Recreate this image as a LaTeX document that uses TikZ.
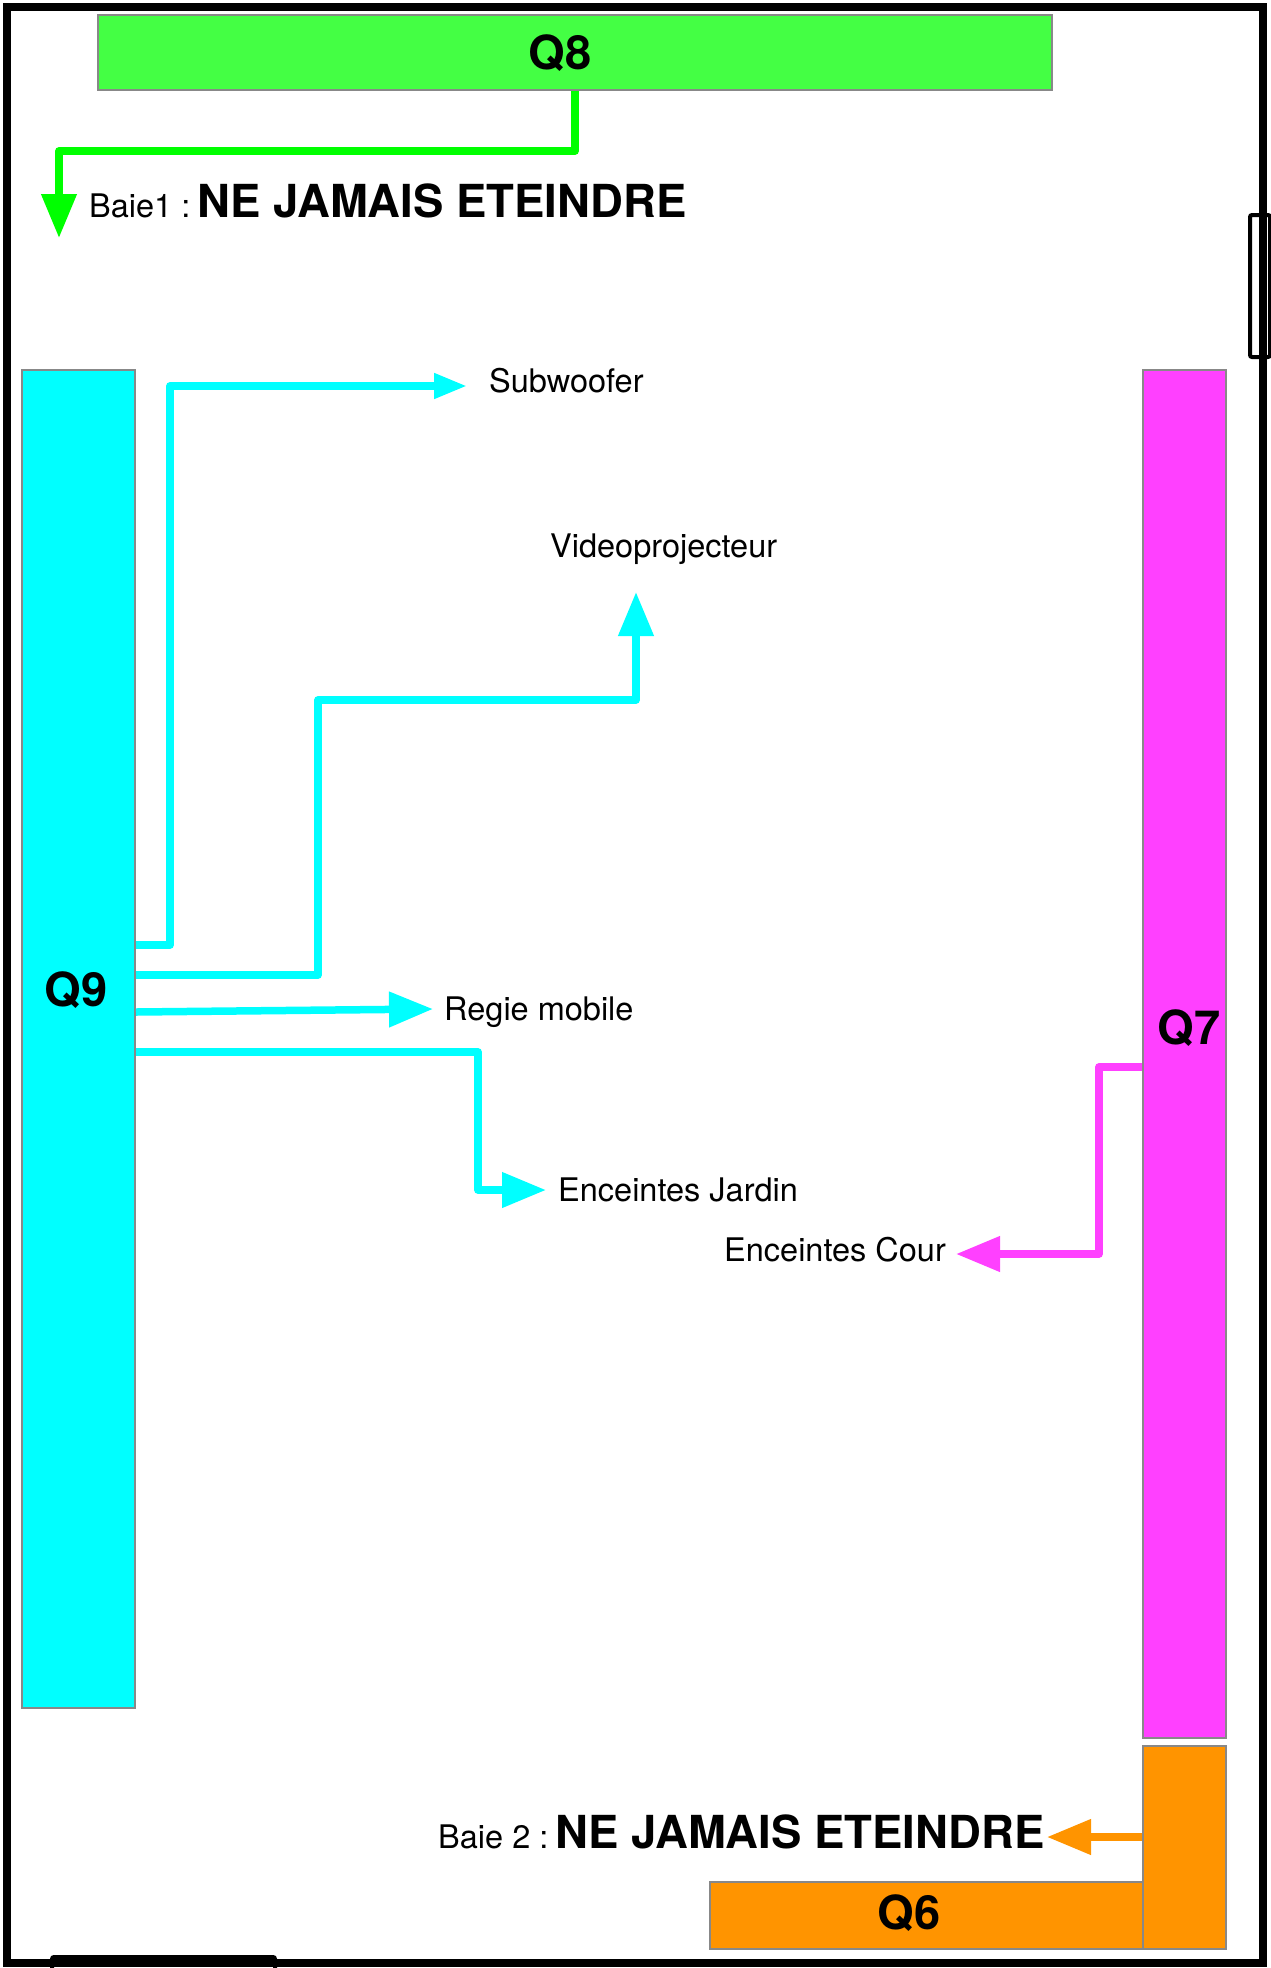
\documentclass[tikz,border=0pt]{standalone}
\usepackage{fontspec}
\setmainfont{TeX Gyre Heros}
\usetikzlibrary{arrows.meta}

\definecolor{q8green}{RGB}{68,255,68}
\definecolor{wiregreen}{RGB}{0,255,0}
\definecolor{q9cyan}{RGB}{0,255,255}
\definecolor{q7pink}{RGB}{255,64,255}
\definecolor{q6orange}{RGB}{255,148,0}
\definecolor{rimgray}{RGB}{136,136,136}

\begin{document}
\begin{tikzpicture}[x=1pt,y=-1pt,
  panel/.style={draw=rimgray,line width=2pt,inner sep=0pt},
  qname/.style={font=\fontsize{47}{56}\selectfont\bfseries,inner sep=0pt},
  dest/.style={font=\fontsize{32.5}{39}\selectfont,inner sep=0pt,anchor=base west},
  wire/.style={line width=7.5pt,line join=round},
  bigtip/.style={-{Triangle[length=44pt,width=34pt]}},
  smalltip/.style={-{Triangle[length=33pt,width=24pt]}}]

  \useasboundingbox (0,0) rectangle (1270,1968);

  % walls and doors
  \draw[line width=4pt,rounded corners=2pt] (1250,215) rectangle (1270,357);
  \draw[line width=4pt,rounded corners=2pt] (52,1957) rectangle (275,1975);
  \draw[line width=8pt] (7,7) rectangle (1263,1963);

  % panels
  \node[panel,fill=q8green,minimum width=954,minimum height=75] (q8) at (575,52.5) {};
  \node[panel,fill=q9cyan,minimum width=113,minimum height=1338] (q9) at (78.5,1039) {};
  \node[panel,fill=q7pink,minimum width=83,minimum height=1368] (q7) at (1184.5,1054) {};
  \node[panel,fill=q6orange,minimum width=433,minimum height=67] (q6) at (926.5,1915.5) {};
  \node[panel,fill=q6orange,minimum width=83,minimum height=203] (q6b) at (1184.5,1847.5) {};

  \node[qname] (q8lab) at (560,53) {Q8};
  \node[qname] (q9lab) at (76,990) {Q9};
  \node[qname] (q7lab) at (1189,1028) {Q7};
  \node[qname] (q6lab) at (909,1913) {Q6};

  % destinations
  \node[dest] (baie1) at (89,217) {Baie1 :\hspace{7pt}{\fontsize{45.5}{54}\selectfont\bfseries NE JAMAIS ETEINDRE}};
  \node[dest] (baie2) at (438,1848) {Baie 2 :\hspace{7pt}{\fontsize{45.5}{54}\selectfont\bfseries NE JAMAIS ETEINDRE}};
  \node[dest] (sub) at (489,392) {Subwoofer};
  \node[dest] (vid) at (550,557) {Videoprojecteur};
  \node[dest] (regie) at (444,1020) {Regie mobile};
  \node[dest] (jardin) at (558,1201) {Enceintes Jardin};
  \node[dest] (cour) at (724,1261) {Enceintes Cour};

  \coordinate (baie1tip) at (59,238);
  \coordinate (baie2tip) at (1047,1837);
  \coordinate (subtip) at (467,386);
  \coordinate (vidtip) at (636,592);
  \coordinate (regietip) at (433,1009);
  \coordinate (jardintip) at (546,1190);
  \coordinate (courtip) at (956,1254);

  % lines
  \draw[wire,draw=wiregreen,bigtip] (q8.south) |- (59,151) -- (baie1tip);
  \draw[wire,draw=q9cyan,smalltip] (q9.east |- 0,945) -| (170,386) -- (subtip);
  \draw[wire,draw=q9cyan,bigtip] (q9.east |- 0,975) -| (318,700) -| (vidtip);
  \draw[wire,draw=q9cyan,bigtip] (q9.east |- 0,1012) -- (regietip);
  \draw[wire,draw=q9cyan,bigtip] (q9.east |- 0,1052) -| (478,1190) -- (jardintip);
  \draw[wire,draw=q7pink,bigtip] (q7.west |- 0,1067) -| (1099,1254) -- (courtip);
  \draw[wire,draw=q6orange,bigtip] (q6b.west |- 0,1837) -- (baie2tip);

\end{tikzpicture}
\end{document}
